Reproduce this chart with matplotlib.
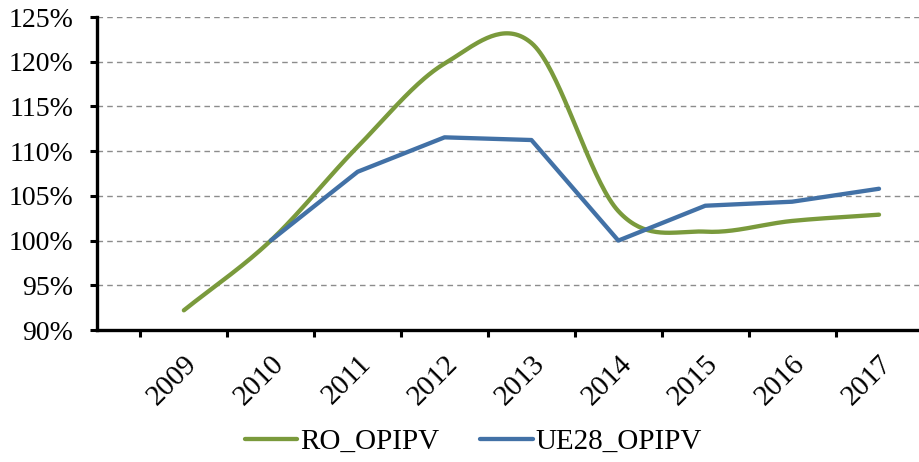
import numpy as np
import matplotlib
matplotlib.use("Agg")
import matplotlib.pyplot as plt
import matplotlib.transforms as mtransforms
from matplotlib.ticker import FuncFormatter

years = ["2009", "2010", "2011", "2012", "2013", "2014", "2015", "2016", "2017"]
ro_opipv = [92.2, 100.0, 110.5, 119.8, 122.1, 103.3, 101.0, 102.2, 102.9]
ue28_years = ["2010", "2011", "2012", "2013", "2014", "2015", "2016", "2017"]
ue28_opipv = [100.0, 107.7, 111.55, 111.25, 100.0, 103.9, 104.35, 105.8]

GREEN = "#7A9A3C"
BLUE = "#4271A6"


# Excel-like smoothed line (Catmull-Rom through the data points)
def smooth(x, y, n=40):
    x = np.asarray(x, float)
    y = np.asarray(y, float)
    xs, ys = [], []
    for i in range(len(x) - 1):
        y0 = y[i - 1] if i > 0 else y[i]
        y3 = y[i + 2] if i + 2 < len(y) else y[i + 1]
        y1, y2 = y[i], y[i + 1]
        m1 = (y2 - y0) / (2 if i > 0 else 1)
        m2 = (y3 - y1) / (2 if i + 2 < len(y) else 1)
        t = np.linspace(0, 1, n)
        h00 = 2 * t**3 - 3 * t**2 + 1
        h10 = t**3 - 2 * t**2 + t
        h01 = -2 * t**3 + 3 * t**2
        h11 = t**3 - t**2
        xs.append(x[i] + t * (x[i + 1] - x[i]))
        ys.append(h00 * y1 + h10 * m1 + h01 * y2 + h11 * m2)
    return np.concatenate(xs), np.concatenate(ys)


def main() -> None:
    plt.rcParams["font.family"] = ["Liberation Serif", "DejaVu Serif"]
    fig = plt.figure(figsize=(9.19, 4.62), dpi=100)
    ax = fig.add_axes([0.1055, 0.2857, 0.8945, 0.6773])

    x_ro = np.arange(len(years))
    x_ue = np.array([years.index(y) for y in ue28_years])

    sx, sy = smooth(x_ro, ro_opipv)
    ax.plot(sx, sy, color=GREEN, lw=3.1, solid_capstyle="round", label="RO_OPIPV", zorder=3)
    ax.plot(x_ue, ue28_opipv, color=BLUE, lw=3.1, solid_capstyle="round", label="UE28_OPIPV", zorder=3)

    ax.set_ylim(90, 125)
    ax.set_yticks(np.arange(90, 126, 5))
    ax.yaxis.set_major_formatter(FuncFormatter(lambda v, p: f"{v:.0f}%"))
    ax.set_xlim(-1.0, 8.46)

    ax.set_xticks(x_ro)
    ax.set_xticklabels(years, rotation=45, ha="right", va="top", rotation_mode="anchor")
    shift = mtransforms.ScaledTranslation(-0.05, 0, fig.dpi_scale_trans)
    for lab in ax.get_xticklabels():
        lab.set_transform(lab.get_transform() + shift)
    ax.set_xticks(np.arange(-0.5, 8, 1), minor=True)
    ax.tick_params(axis="x", which="major", length=0, pad=15, labelsize=21)
    ax.tick_params(axis="x", which="minor", length=5, width=2.2, direction="out")
    ax.tick_params(axis="y", length=5, width=2.2, direction="out", pad=12, labelsize=20)

    for v in range(95, 126, 5):
        ax.axhline(v, color="#8c8c8c", lw=1.0, ls=(0, (4, 3)), zorder=1)

    for s in ["top", "right"]:
        ax.spines[s].set_visible(False)
    for s in ["left", "bottom"]:
        ax.spines[s].set_linewidth(2.4)
        ax.spines[s].set_color("black")

    fig.legend(loc="center", bbox_to_anchor=(0.515, 0.043), ncol=2, frameon=False,
               fontsize=21, handlelength=1.8, handletextpad=0.1, columnspacing=1.4)

    fig.savefig("out.png", dpi=100)
    plt.close(fig)


if __name__ == "__main__":
    main()
